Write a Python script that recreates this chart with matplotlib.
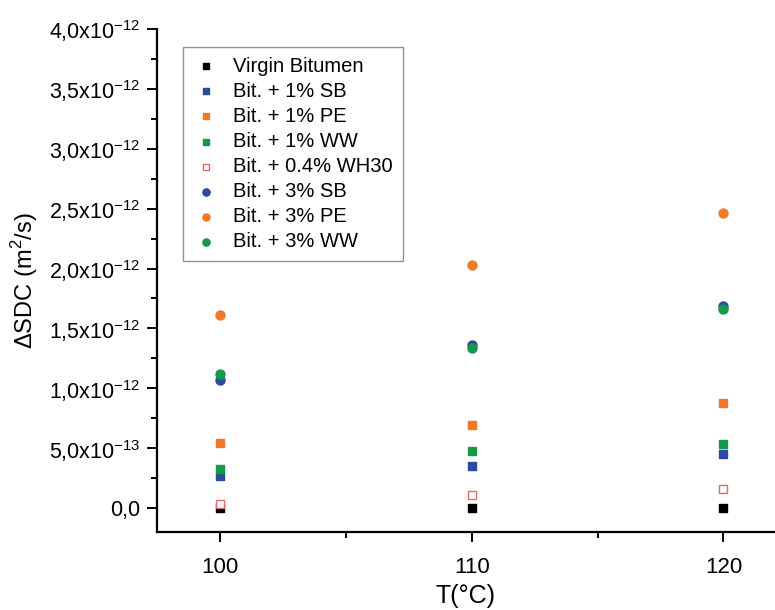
import matplotlib
matplotlib.use("Agg")
import matplotlib.pyplot as plt
from matplotlib.ticker import MultipleLocator, FuncFormatter

plt.rcParams['font.family'] = ['Liberation Sans', 'DejaVu Sans']
plt.rcParams['mathtext.fontset'] = 'custom'
plt.rcParams['mathtext.rm'] = 'Liberation Sans'

#data
temps = [100, 110, 120]
virgin = [0.0, 0.0, 0.0]
sb1 = [0.265e-12, 0.355e-12, 0.455e-12]
pe1 = [0.545e-12, 0.69e-12, 0.876e-12]
ww1 = [0.33e-12, 0.48e-12, 0.537e-12]
wh30 = [0.03e-12, 0.11e-12, 0.157e-12]
sb3 = [1.07e-12, 1.36e-12, 1.69e-12]
pe3 = [1.61e-12, 2.03e-12, 2.46e-12]
ww3 = [1.12e-12, 1.34e-12, 1.66e-12]

blue = '#2b4aa0'
orange = '#f07a2a'
green = '#16994a'
red = '#e26a6a'

fig = plt.figure(figsize=(7.75, 6.10), dpi=100)
ax = fig.add_axes([157/775, 78/610, 618/775, 503/610])

ax.scatter(temps, virgin, marker='s', s=34, color='black', label='Virgin Bitumen', zorder=3)
ax.scatter(temps, sb1, marker='s', s=34, color=blue, label='Bit. + 1% SB', zorder=3)
ax.scatter(temps, pe1, marker='s', s=34, color=orange, label='Bit. + 1% PE', zorder=3)
ax.scatter(temps, ww1, marker='s', s=34, color=green, label='Bit. + 1% WW', zorder=3)
ax.scatter(temps, wh30, marker='s', s=34, facecolors='white', edgecolors=red, linewidths=1.0,
           label='Bit. + 0.4% WH30', zorder=4)
ax.scatter(temps, sb3, marker='o', s=42, color=blue, label='Bit. + 3% SB', zorder=3)
ax.scatter(temps, pe3, marker='o', s=42, color=orange, label='Bit. + 3% PE', zorder=3)
ax.scatter(temps, ww3, marker='o', s=42, color=green, label='Bit. + 3% WW', zorder=3)

ax.set_xlim(97.5, 122.05)
ax.set_ylim(-0.2e-12, 4.0e-12)

ax.xaxis.set_major_locator(MultipleLocator(10))
ax.xaxis.set_minor_locator(MultipleLocator(5))
ax.yaxis.set_major_locator(MultipleLocator(0.5e-12))
ax.yaxis.set_minor_locator(MultipleLocator(0.25e-12))


def yfmt(v, pos):
    if abs(v) < 1e-20:
        return '0,0'
    exp = 0
    m = v
    while abs(m) < 1:
        m *= 10
        exp -= 1
    return ('%.1f' % m).replace('.', ',') + 'x10$^{%d}$' % exp


ax.yaxis.set_major_formatter(FuncFormatter(yfmt))

ax.spines['top'].set_visible(False)
ax.spines['right'].set_visible(False)
for s in ['left', 'bottom']:
    ax.spines[s].set_linewidth(1.6)
ax.tick_params(which='major', direction='out', length=7, width=1.4, labelsize=16)
ax.tick_params(which='minor', direction='out', length=4, width=1.4)
ax.tick_params(axis='x', pad=11)
ax.tick_params(axis='y', pad=5, labelsize=15.5)

ax.set_xlabel('T(°C)', fontsize=18, labelpad=4)
ax.set_ylabel('ΔSDC (m$^2$/s)', fontsize=17, labelpad=6)

leg = ax.legend(loc='upper left', bbox_to_anchor=(0.025, 0.985), fontsize=14.5,
                frameon=True, fancybox=False, edgecolor='#777777',
                handletextpad=0.7, labelspacing=0.3, borderpad=0.5, handlelength=1.3,
                markerscale=0.8)
leg.get_frame().set_linewidth(1.0)

fig.savefig('out.png', dpi=100)
